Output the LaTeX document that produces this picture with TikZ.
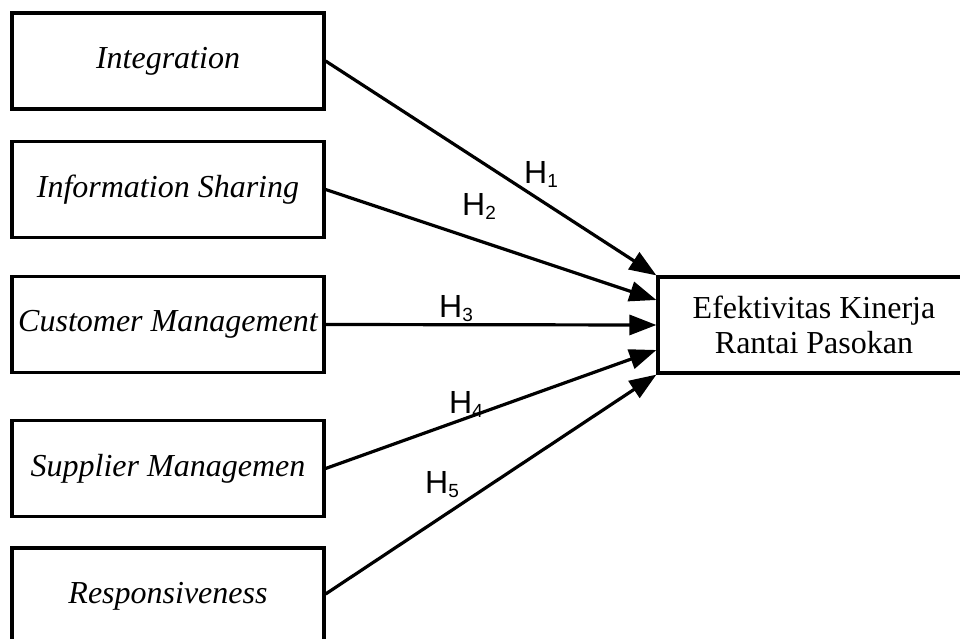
\documentclass[tikz,border=0pt]{standalone}
\usepackage{fontspec}
\setmainfont{Liberation Serif}
\newfontfamily\hfont{Liberation Sans}
\usetikzlibrary{arrows.meta}
\newcommand{\hlab}[1]{H\raisebox{-4pt}{\fontsize{19}{19}\selectfont #1}}
\tikzset{
  x=1pt, y=-1pt,
  varbox/.style={draw, line width=3.2pt, minimum width=312pt, minimum height=96pt,
    inner sep=0pt, font=\fontsize{32}{35}\selectfont\itshape},
  outbox/.style={draw, line width=3.2pt, minimum width=306pt, minimum height=96pt,
    inner sep=0pt, align=center, font=\fontsize{32}{35}\selectfont},
  conn/.style={line width=3.2pt, -{Triangle[length=27pt, width=20pt]}},
  hl/.style={anchor=base west, inner sep=0pt, font=\hfont\fontsize{32}{32}\selectfont}
}
\begin{document}
\begin{tikzpicture}
\useasboundingbox (0,0) rectangle (960,639);
\node[varbox] (b1) at (168,61) {Integration};
\node[varbox] (b2) at (168,189.5) {Information Sharing};
\node[varbox] (b3) at (168,324.5) {Customer Management};
\node[varbox] (b4) at (168,468.5) {Supplier Managemen};
\node[varbox] (b5) at (168,596) {Responsiveness};
\node[outbox] (t) at (811,325) {\hspace*{6pt}Efektivitas Kinerja\\\hspace*{6pt}Rantai Pasokan};
\draw[conn] (b1.east) -- (t.north west);
\draw[conn] (b2.east) -- ([yshift=25pt]t.west);
\draw[conn] (b3.east) -- (t.west);
\draw[conn] (b4.east) -- ([yshift=-25pt]t.west);
\draw[conn] ([yshift=2pt]b5.east) -- (t.south west);
\node[hl] (h1) at (524,183) {\hlab{1}};
\node[hl] (h2) at (462,215) {\hlab{2}};
\node[hl] (h3) at (439,317) {\hlab{3}};
\node[hl] (h4) at (449,413) {\hlab{4}};
\node[hl] (h5) at (425,493) {\hlab{5}};
\end{tikzpicture}
\end{document}
